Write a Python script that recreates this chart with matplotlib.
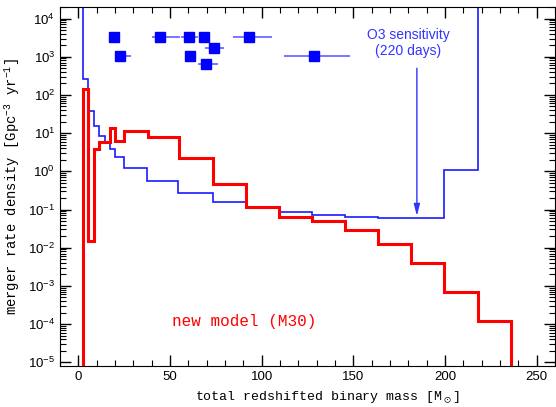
import matplotlib
matplotlib.use('Agg')
import matplotlib.pyplot as plt
import numpy as np
from matplotlib.ticker import MultipleLocator, FixedLocator, NullFormatter

plt.rcParams['mathtext.default'] = 'regular'

# model histogram (red)
red_edges = [2.3, 5.0, 8.3, 11.4, 17.0, 20.0, 25.1, 37.8, 55.0, 73.3, 91.4,
             109.4, 127.5, 145.6, 163.6, 181.7, 199.7, 217.8, 235.8]
red_rates = [143, 0.015, 3.8, 6.0, 13.5, 6.3, 11.5, 7.8, 2.2, 0.47, 0.115,
             0.065, 0.05, 0.029, 0.0125, 0.0039, 0.00069, 1.2e-4]

# O3 sensitivity (blue)
o3_edges = [2.3, 5.2, 8.3, 11.4, 14.3, 17.0, 20.0, 25.1, 37.6, 54.3, 73.3,
            91.4, 109.4, 127.5, 145.6, 163.6, 181.7, 199.7, 217.8]
o3_rates = [266, 37, 15.5, 8.5, 6.0, 3.8, 2.4, 1.25, 0.57, 0.275, 0.16,
            0.115, 0.087, 0.074, 0.065, 0.061, 0.060, 1.09]

# observed events
ev_mass = [19.5, 22.8, 44.4, 60.1, 68.8, 61.0, 69.7, 74.0, 93.2, 128.4]
ev_rate = [3240, 1020, 3240, 3240, 3240, 1020, 647, 1660, 3240, 1020]
ev_lo = [2.5, 2.8, 4.1, 4.3, 3.0, 3.0, 4.2, 4.7, 9.1, 16.3]
ev_hi = [2.5, 5.7, 10.9, 5.0, 3.2, 3.3, 6.5, 5.3, 12.3, 19.9]

y_major = [1e-5, 1e-4, 1e-3, 1e-2, 1e-1, 1e0, 1e1, 1e2, 1e3, 1e4]

fig = plt.figure(figsize=(5.56, 4.07), dpi=100)
ax = fig.add_axes([0.108, 0.1007, 0.89, 0.882])

ax.stairs(o3_rates, o3_edges, baseline=1e7, color='#1a1aff', lw=1.2)
ax.stairs(red_rates, red_edges, baseline=1e-7, color='red', lw=2.2)

ax.errorbar(ev_mass, ev_rate, xerr=[ev_lo, ev_hi], fmt='none',
            ecolor='#6060ff', elinewidth=1.2, capsize=0)
ax.plot(ev_mass, ev_rate, 's', color='#0000ff', ms=7.4, mec='#0000ff', ls='none')

ax.annotate('', xy=(184.7, 0.068), xytext=(184.7, 500),
            arrowprops=dict(arrowstyle='-|>,head_width=0.18,head_length=0.7',
                            color='#3333ff', lw=1.0, shrinkA=0, shrinkB=0))
ax.text(180, 2300, 'O3 sensitivity\n(220 days)', color='#3333ff', ha='center',
        va='center', fontsize=10, family='Liberation Sans', linespacing=1.15)

ax.text(90.5, 1.2e-4, 'new model (M30)', color='red', ha='center', va='center',
        fontsize=11.5, family='Liberation Mono')

ax.set_yscale('log')
ax.set_xlim(-10, 260)
ax.set_ylim(8e-6, 2e4)

ax.xaxis.set_major_locator(MultipleLocator(50))
ax.xaxis.set_minor_locator(MultipleLocator(10))
ax.yaxis.set_major_locator(FixedLocator(y_major))
y_minor = [m * d for d in y_major[:-1] for m in range(2, 10)] + [2e4]
ax.yaxis.set_minor_locator(FixedLocator(y_minor))
ax.yaxis.set_minor_formatter(NullFormatter())
ax.tick_params(which='both', direction='in', top=True, right=True,
               labelsize=9.5)
ax.tick_params(which='major', length=8, width=1.0)
ax.tick_params(which='minor', length=4, width=0.8)
for lab in ax.get_xticklabels() + ax.get_yticklabels():
    lab.set_family('Liberation Sans')

ax.set_xlabel(r'total redshifted binary mass [M$_\odot$]', family='Liberation Mono',
              fontsize=9.5)
ax.xaxis.set_label_coords(0.54, -0.063)
ax.set_ylabel(r'merger rate density [Gpc$^{-3}$ yr$^{-1}$]', family='Liberation Mono',
              fontsize=10)

fig.savefig('out.png', dpi=100)
